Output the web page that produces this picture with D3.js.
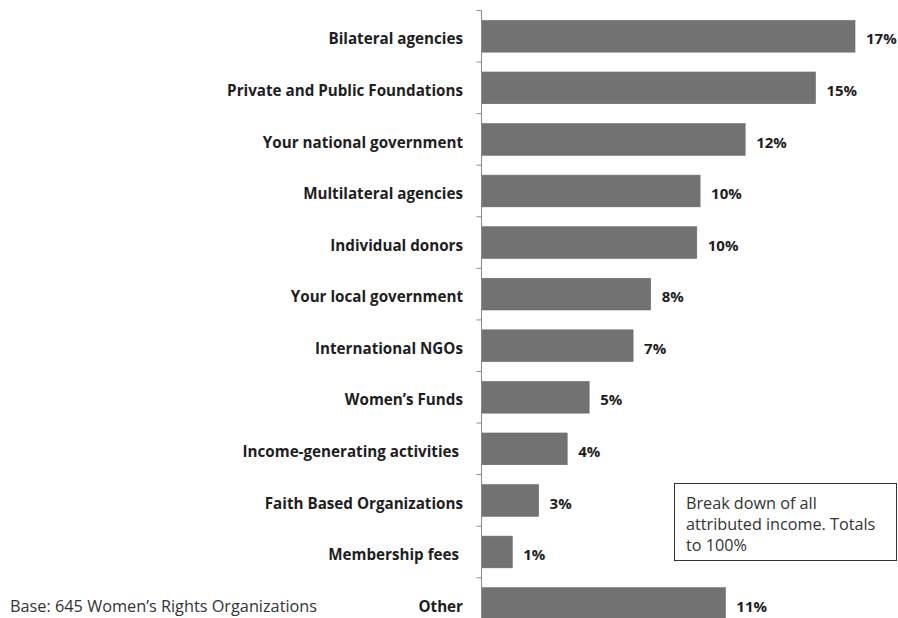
<!DOCTYPE html>
<html>
<head>
<meta charset="utf-8">
<script src="https://cdn.jsdelivr.net/npm/d3@7"></script>
<style>
  html, body { margin: 0; padding: 0; background: #fff; }
  svg { display: block; }
  .cat { white-space: pre; }
</style>
</head>
<body>
<svg id="chart" width="898" height="618"></svg>
<script>
// Sources of attributed income (share of total, %)
const categories = [
  "Bilateral agencies",
  "Private and Public Foundations",
  "Your national government",
  "Multilateral agencies",
  "Individual donors",
  "Your local government",
  "International NGOs",
  "Women\u2019s Funds",
  "Income-generating activities ",
  "Faith Based Organizations",
  "Membership fees ",
  "Other"
];
const shares = [17, 15.2, 12, 9.95, 9.8, 7.7, 6.9, 4.9, 3.9, 2.6, 1.4, 11.1];
const shareLabels = shares.map(v => Math.round(v) + "%");
const noteLines = ["Break down of all", "attributed income. Totals", "to 100%"];
const baseNote = "Base: 645 Women\u2019s Rights Organizations";

const FONT = "'Open Sans', Lato, sans-serif";
const svg = d3.select("#chart");

const axisX = 481.5;
const step = 51.57;
const axisTop = 10.5;
const x = d3.scaleLinear().domain([0, 17]).range([axisX, 855]);
const y = d3.scaleBand().domain(categories)
  .range([axisTop, axisTop + step * categories.length])
  .paddingInner(0.385).paddingOuter(0.1925);

// Bars
svg.append("g").selectAll("rect")
  .data(categories)
  .join("rect")
  .attr("x", axisX)
  .attr("y", d => y(d))
  .attr("width", (d, i) => x(shares[i]) - axisX)
  .attr("height", y.bandwidth())
  .attr("fill", "#727272")
  .attr("stroke", "#6a6a6a")
  .attr("stroke-width", 0.6);

// Value labels
svg.append("g").selectAll("text")
  .data(categories)
  .join("text")
  .attr("x", (d, i) => x(shares[i]) + 11)
  .attr("y", d => y(d) + y.bandwidth() / 2)
  .attr("dy", "0.54em")
  .attr("font-family", FONT)
  .attr("font-weight", "bold")
  .attr("font-size", 15)
  .attr("fill", "#1e1e1e")
  .text((d, i) => shareLabels[i]);

// Category axis with ticks at band boundaries
const axisG = svg.append("g");
axisG.append("line")
  .attr("x1", axisX).attr("x2", axisX)
  .attr("y1", axisTop).attr("y2", 618)
  .attr("stroke", "#8a8a8a").attr("stroke-width", 1);
axisG.selectAll("line.tick")
  .data(d3.range(categories.length + 1))
  .join("line")
  .attr("class", "tick")
  .attr("x1", axisX - 5).attr("x2", axisX)
  .attr("y1", i => axisTop + i * y.step())
  .attr("y2", i => axisTop + i * y.step())
  .attr("stroke", "#8a8a8a").attr("stroke-width", 1);

// Category labels (trailing spaces kept, as typed)
svg.append("g").selectAll("text")
  .data(categories)
  .join("text")
  .attr("class", "cat")
  .attr("x", 463)
  .attr("y", d => y(d) + y.bandwidth() / 2)
  .attr("dy", "0.54em")
  .attr("text-anchor", "end")
  .attr("font-family", FONT)
  .attr("font-weight", "bold")
  .attr("font-size", 15.2)
  .attr("fill", "#1e1e1e")
  .text(d => d);

// Base note
svg.append("text")
  .attr("x", 10)
  .attr("y", 612)
  .attr("font-family", FONT)
  .attr("font-size", 16.3)
  .attr("fill", "#333")
  .text(baseNote);

// Annotation box
const note = svg.append("g");
note.append("rect")
  .attr("x", 674.5).attr("y", 483.5)
  .attr("width", 222).attr("height", 77)
  .attr("fill", "#fff")
  .attr("stroke", "#333").attr("stroke-width", 1);
note.selectAll("text")
  .data(noteLines)
  .join("text")
  .attr("x", 686)
  .attr("y", (d, i) => 508.5 + i * 21)
  .attr("font-family", FONT)
  .attr("font-size", 16.2)
  .attr("fill", "#333")
  .text(d => d);
</script>
</body>
</html>
